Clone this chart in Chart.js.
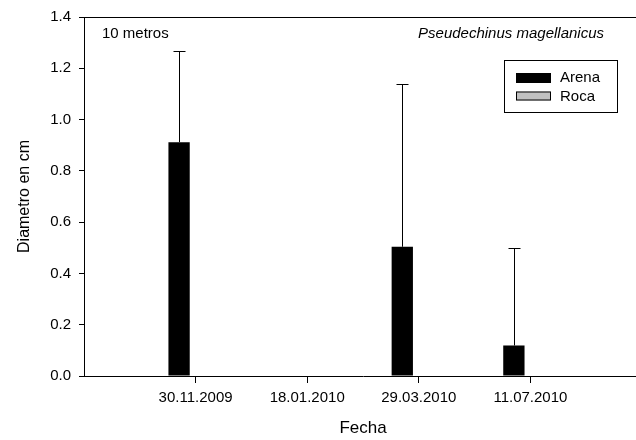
<!DOCTYPE html>
<html><head><meta charset="utf-8">
<script src="https://cdn.jsdelivr.net/npm/chart.js@4/dist/chart.umd.min.js"></script>
<style>
html,body{margin:0;padding:0;background:#fff;overflow:hidden;width:636px;height:440px}
#wrap{width:636px;height:440px;overflow:hidden}
</style></head>
<body><div id="wrap"><canvas id="c" width="642" height="440"></canvas></div>
<script>
// ---- data ----
const categories = ['', '30.11.2009', '18.01.2010', '29.03.2010', '11.07.2010', ''];
const arenaMean = [null, 0.912, 0, 0.504, 0.119, null];
const arenaSD   = [null, 0.355, null, 0.635, 0.380, null];
const rocaMean  = [null, 0, 0, 0, 0, null];
const seriesNames = ['Arena', 'Roca'];
const seriesColors = ['#000000', '#c0c0c0'];
const yMin = 0, yMax = 1.4, yStep = 0.2;
const depthLabel = '10 metros';
const speciesLabel = 'Pseudechinus magellanicus';
const xTitle = 'Fecha';
const yTitle = 'Diametro en cm';

const FONT = "'Liberation Sans', Arial, Helvetica, sans-serif";
Chart.defaults.font.family = FONT;
Chart.defaults.color = '#000';

const errorBars = {
  id: 'errorBars',
  afterDatasetsDraw(chart) {
    const meta = chart.getDatasetMeta(0);
    const ys = chart.scales.y;
    const ctx = chart.ctx;
    ctx.save();
    ctx.strokeStyle = '#000';
    ctx.lineWidth = 1;
    arenaSD.forEach((sd, i) => {
      if (sd == null || arenaMean[i] == null) return;
      const bar = meta.data[i];
      const x = Math.round(bar.x) + 0.5;
      const yTop = Math.round(ys.getPixelForValue(arenaMean[i] + sd)) + 0.5;
      const yBar = bar.y;
      ctx.beginPath();
      ctx.moveTo(x, yBar);
      ctx.lineTo(x, yTop);
      ctx.moveTo(x - 6, yTop);
      ctx.lineTo(x + 6, yTop);
      ctx.stroke();
    });
    ctx.restore();
  }
};

const annotations = {
  id: 'annotations',
  afterDraw(chart) {
    const ctx = chart.ctx;
    const ca = chart.chartArea;
    ctx.save();
    ctx.strokeStyle = '#000';
    ctx.lineWidth = 1;
    ctx.beginPath();
    ctx.moveTo(ca.left, Math.round(ca.top) + 0.5);
    ctx.lineTo(ca.right, Math.round(ca.top) + 0.5);
    ctx.stroke();

    ctx.fillStyle = '#000';
    ctx.textBaseline = 'alphabetic';
    ctx.font = '15px ' + FONT;
    ctx.textAlign = 'left';
    ctx.fillText(depthLabel, 102, 38);
    ctx.font = 'italic 15px ' + FONT;
    ctx.textAlign = 'right';
    ctx.fillText(speciesLabel, 604, 38);

    ctx.strokeRect(504.5, 60.5, 113, 52);
    chart.data.datasets.forEach((ds, i) => {
      const y = 73 + i * 18.5;
      ctx.fillStyle = ds.backgroundColor;
      ctx.fillRect(516, y, 35, i === 0 ? 10 : 9);
      if (i > 0) ctx.strokeRect(516.5, y + 0.5, 34, 8);
      ctx.fillStyle = '#000';
      ctx.font = '15px ' + FONT;
      ctx.textAlign = 'left';
      ctx.textBaseline = 'middle';
      ctx.fillText(ds.label, 560, y + 5);
    });
    ctx.restore();
  }
};

const hideEmpty = (c) => (c.tick && c.tick.label === '') ? 'rgba(0,0,0,0)' : '#000';

new Chart(document.getElementById('c'), {
  type: 'bar',
  data: {
    labels: categories,
    datasets: [
      { label: seriesNames[0], data: arenaMean, backgroundColor: seriesColors[0], borderColor: '#000', borderWidth: 0,
        categoryPercentage: 0.592, barPercentage: 0.645 },
      { label: seriesNames[1], data: rocaMean, backgroundColor: seriesColors[1], borderColor: '#000', borderWidth: 0,
        categoryPercentage: 0.592, barPercentage: 0.645 }
    ]
  },
  options: {
    responsive: false,
    animation: false,
    layout: { padding: { top: 15, left: 0, right: 0, bottom: 0 } },
    plugins: { legend: { display: false }, tooltip: { enabled: false } },
    scales: {
      x: {
        type: 'category',
        offset: false,
        grid: { offset: false, drawOnChartArea: false, tickLength: 7, tickColor: hideEmpty, tickWidth: 1 },
        border: { color: '#000', width: 1 },
        ticks: { color: '#000', font: { size: 15 }, padding: 6, autoSkip: false, maxRotation: 0 },
        title: { display: true, text: xTitle, color: '#000', font: { size: 17 }, padding: { top: 0, bottom: 1 } },
        afterFit: (s) => { s.height = 64; s.paddingLeft = 0; s.paddingRight = 0; }
      },
      y: {
        min: yMin, max: yMax,
        ticks: { stepSize: yStep, callback: (v) => Number(v).toFixed(1), padding: 8, color: '#000', font: { size: 15 } },
        grid: { drawOnChartArea: false, tickLength: 5, tickColor: '#000' },
        border: { color: '#000', width: 1 },
        title: { display: true, text: yTitle, color: '#000', font: { size: 16 }, padding: { top: 15, bottom: 0 } },
        afterFit: (s) => { s.width = 84; }
      }
    }
  },
  plugins: [errorBars, annotations]
});
</script>
</body></html>
